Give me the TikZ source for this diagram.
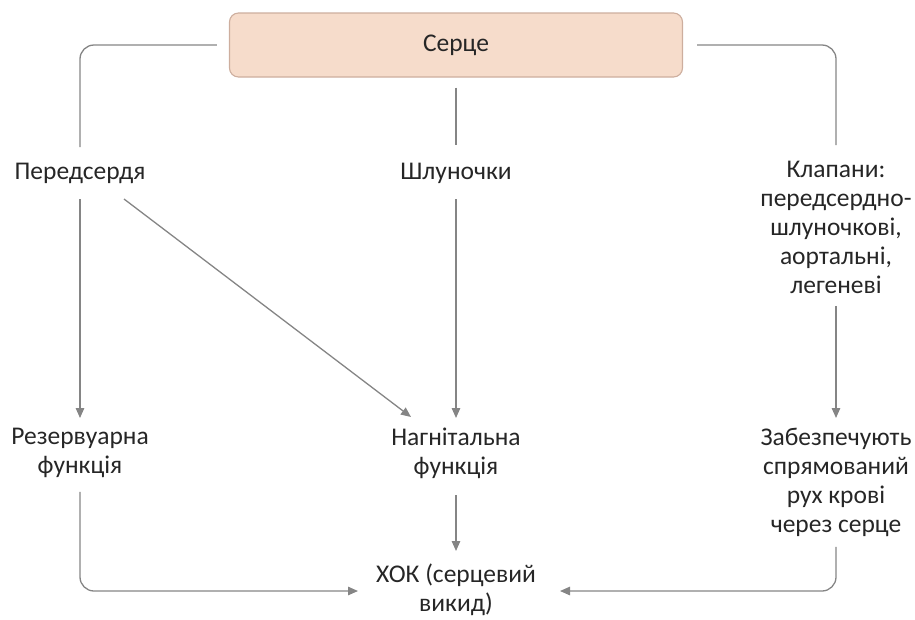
\documentclass[tikz,border=0pt]{standalone}
\usepackage{fontspec}
\setmainfont{Carlito}
\usetikzlibrary{arrows.meta}
\definecolor{boxfill}{HTML}{F6DCCB}
\definecolor{boxline}{HTML}{CDAE9E}
\definecolor{linkgray}{HTML}{858585}
\definecolor{txt}{HTML}{262626}
\begin{document}
\begin{tikzpicture}[x=1pt,y=-1pt,
  every node/.style={text=txt, font=\fontsize{25.5}{29}\selectfont, align=center, inner sep=0pt},
  link/.style={draw=linkgray, line width=1.3pt},
  arr/.style={link, -{Triangle[length=10pt,width=8.5pt]}},
  hub/.style={draw=boxline, fill=boxfill, rounded corners=9pt, line width=1.1pt,
    minimum width=453pt, minimum height=64pt}]
\useasboundingbox (0,0) rectangle (915,619);

% top box
\node[hub] (heart) at (456,45) {Серце};

% middle row
\node (atria) at (80,173) {Передсердя};
\node (vent) at (456,173) {Шлуночки};
\node[anchor=north] (valves) at (836,161) {Клапани:\\передсердно-\\шлуночкові,\\аортальні,\\легеневі};

% functions
\node[anchor=north] (reserv) at (80,428) {Резервуарна\\функція};
\node[anchor=north] (pump) at (456,428) {Нагнітальна\\функція};
\node[anchor=north] (flow) at (836,428) {Забезпечують\\спрямований\\рух крові\\через серце};

% cardiac output
\node[anchor=north] (output) at (456,564) {ХОК (серцевий\\викид)};

% links from the heart
\coordinate (atriaTop) at (80,147);
\coordinate (valvesTop) at (836,145);
\draw[link, rounded corners=14pt] (heart.west) ++(-12,0) -| (atriaTop);
\draw[link, rounded corners=14pt] (heart.east) ++(14,0) -| (valvesTop);
\draw[link] (heart.south) ++(0,10) -- (vent.north |- 0,145);

% links to functions
\draw[arr] (atria.center) ++(0,26) -- (reserv.north |- 0,418);
\draw[arr] (vent.center) ++(0,26) -- (pump.north |- 0,418);
\draw[arr] (valves.south) ++(0,12) -- (flow.north |- 0,418);
\draw[arr] (atria.center) ++(44,26) -- ([shift={(-45,-11)}]pump.north);

% links to cardiac output
\draw[arr] (pump.south) ++(0,16) -- (output.north |- 0,551);
\draw[arr, rounded corners=14pt] (reserv.south) ++(0,14) |- ([xshift=-98pt]output.center |- 0,591);
\draw[arr, rounded corners=14pt] (flow.south) ++(0,10) |- ([xshift=104pt]output.center |- 0,591);
\end{tikzpicture}
\end{document}
